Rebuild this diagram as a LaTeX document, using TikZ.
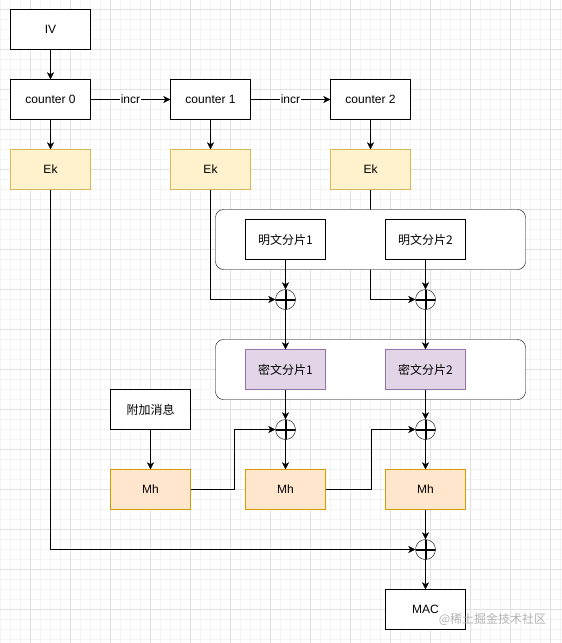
\documentclass[tikz,border=0pt]{standalone}
\usepackage{fontspec}
\setmainfont{Liberation Sans}
\newfontfamily\cjk{Noto Sans CJK SC}
\usetikzlibrary{arrows.meta}
\pgfdeclarelayer{gridlayer}
\pgfdeclarelayer{behind}
\pgfsetlayers{gridlayer,behind,main}
\definecolor{ekfill}{HTML}{FFF2CC}
\definecolor{ekline}{HTML}{D6B656}
\definecolor{cfill}{HTML}{E1D5E7}
\definecolor{cline}{HTML}{9673A6}
\definecolor{mhfill}{HTML}{FFE6CC}
\definecolor{mhline}{HTML}{D79B00}
\definecolor{gmajor}{HTML}{E0E0E0}
\definecolor{gminor}{HTML}{F4F4F4}
\begin{document}
\begin{tikzpicture}[x=1pt,y=-1pt,line width=1pt,
  box/.style={draw, fill=white, minimum width=80pt, minimum height=40pt, inner sep=0pt, font=\fontsize{12pt}{14pt}\selectfont},
  ekbox/.style={box, fill=ekfill, draw=ekline},
  cbox/.style={box, fill=cfill, draw=cline, font=\cjk\fontsize{12pt}{14pt}\selectfont},
  pbox/.style={box, font=\cjk\fontsize{12pt}{14pt}\selectfont},
  mhbox/.style={box, fill=mhfill, draw=mhline},
  grpframe/.style={draw=black, fill=white, rounded corners=8pt},
  xorop/.style={circle, draw, fill=white, minimum size=20pt, inner sep=0pt,
    path picture={\draw[line width=2pt] (path picture bounding box.north) -- (path picture bounding box.south)
      (path picture bounding box.west) -- (path picture bounding box.east);}},
  arr/.style={-{Stealth[length=7pt,width=7pt,inset=2pt]}},
  lbl/.style={fill=white, inner sep=0.5pt, font=\fontsize{12pt}{14pt}\selectfont}
]
\useasboundingbox (0,0) rectangle (562,643);
\begin{scope}[shift={(0.5,0.5)}]
\begin{pgfonlayer}{gridlayer}
  \fill[white] (-1,-1) rectangle (562,643);
  \foreach \x in {0,10,...,560} \draw[gminor] (\x,-1) -- (\x,643);
  \foreach \y in {9,19,...,639} \draw[gminor] (-1,\y) -- (562,\y);
  \foreach \x in {30,70,...,550} \draw[gmajor] (\x,-1) -- (\x,643);
  \foreach \y in {9,49,...,609} \draw[gmajor] (-1,\y) -- (562,\y);
\end{pgfonlayer}

\node[box] (iv) at (50,29) {IV};
\node[box] (c0) at (50,99) {counter 0};
\node[box] (c1) at (210,99) {counter 1};
\node[box] (c2) at (370,99) {counter 2};
\node[ekbox] (ek0) at (50,169) {Ek};
\node[ekbox] (ek1) at (210,169) {Ek};
\node[ekbox] (ek2) at (370,169) {Ek};

\draw[grpframe] (215,209) rectangle (525,269);
\node[pbox] (p1) at (285,239) {明文分片1};
\node[pbox] (p2) at (425,239) {明文分片2};
\node[xorop] (x1) at (285,299) {};
\node[xorop] (x2) at (425,299) {};

\draw[grpframe] (215,339) rectangle (525,399);
\node[cbox] (ct1) at (285,369) {密文分片1};
\node[cbox] (ct2) at (425,369) {密文分片2};

\node[pbox] (ad) at (150,409) {附加消息};
\node[xorop] (x4) at (285,429) {};
\node[xorop] (x5) at (425,429) {};
\node[mhbox] (mh0) at (150,489) {Mh};
\node[mhbox] (mh1) at (285,489) {Mh};
\node[mhbox] (mh2) at (425,489) {Mh};
\node[xorop] (x3) at (425,549) {};
\node[box] (mac) at (425,609) {MAC};

\begin{pgfonlayer}{behind}
  \draw[arr] (ek2.south) |- (x2.west);
\end{pgfonlayer}

\draw[arr] (iv) -- (c0);
\draw[arr] (c0) -- node[lbl] {incr} (c1);
\draw[arr] (c1) -- node[lbl] {incr} (c2);
\draw[arr] (c0) -- (ek0);
\draw[arr] (c1) -- (ek1);
\draw[arr] (c2) -- (ek2);
\draw[arr] (ek1.south) |- (x1.west);
\draw[arr] (p1) -- (x1);
\draw[arr] (p2) -- (x2);
\draw[arr] (x1) -- (ct1);
\draw[arr] (x2) -- (ct2);
\draw[arr] (ct1) -- (x4);
\draw[arr] (ct2) -- (x5);
\draw[arr] (ad) -- (mh0);
\draw[arr] (mh0.east) -- ++(43,0) |- (x4.west);
\draw[arr] (mh1.east) -- ++(45,0) |- (x5.west);
\draw[arr] (x4) -- (mh1);
\draw[arr] (x5) -- (mh2);
\draw[arr] (mh2) -- (x3);
\draw[arr] (ek0.south) |- (x3.west);
\draw[arr] (x3) -- (mac);

\node[text=black!30, font=\cjk\fontsize{12pt}{14pt}\selectfont] (wm) at (492,619) {@稀土掘金技术社区};
\end{scope}
\end{tikzpicture}
\end{document}
